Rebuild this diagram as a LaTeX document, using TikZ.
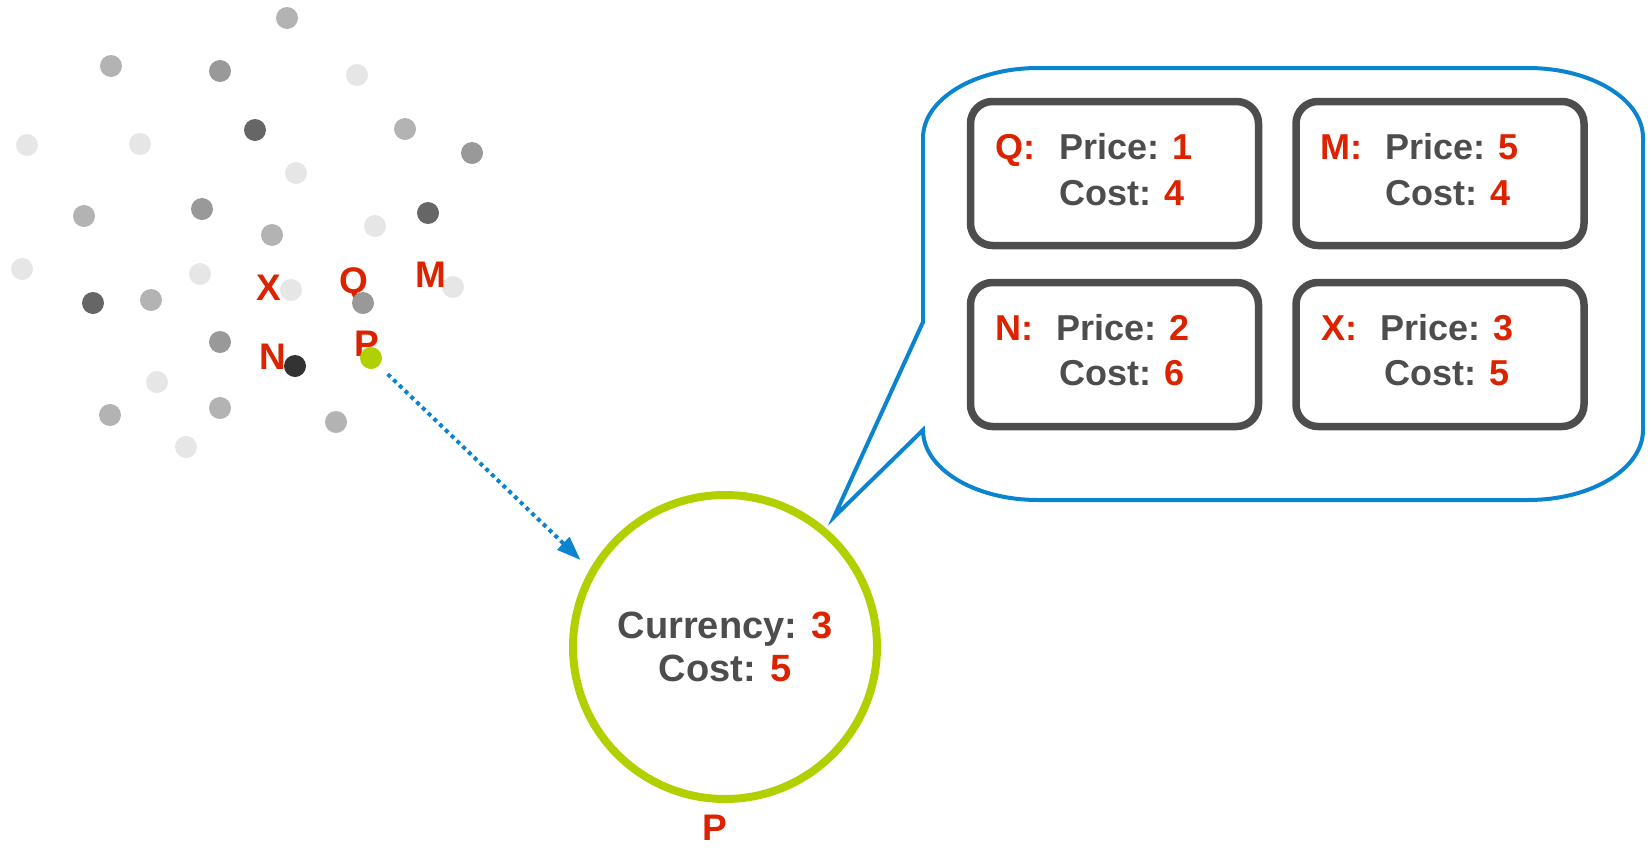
\documentclass[tikz,border=0pt]{standalone}
\usepackage{fontspec}
\setmainfont{Liberation Sans}
\usetikzlibrary{arrows.meta}
\definecolor{cred}{HTML}{DD2200}
\definecolor{ctext}{HTML}{4D4D4D}
\definecolor{cgreen}{HTML}{B2D000}
\definecolor{cblue}{HTML}{0A84D0}
\definecolor{ga}{HTML}{E6E6E6}
\definecolor{gb}{HTML}{B3B3B3}
\definecolor{gc}{HTML}{999999}
\definecolor{gd}{HTML}{666666}
\definecolor{ge}{HTML}{333333}
\begin{document}
\begin{tikzpicture}[x=1pt,y=1pt,
  dot/.style={circle,inner sep=0pt,minimum size=22pt,fill=#1},
  lbl/.style={anchor=base west,inner sep=0pt,text=cred,font=\fontsize{37}{40}\selectfont\bfseries},
  key/.style={anchor=base west,inner sep=0pt,text=cred,font=\fontsize{36}{40}\selectfont\bfseries},
  txt/.style={anchor=base west,inner sep=0pt,text=ctext,font=\fontsize{36}{40}\selectfont\bfseries},
  infobox/.style={draw=ctext,line width=7.5pt,rounded corners=22pt,minimum width=288pt,minimum height=144pt,inner sep=0pt}
]
\useasboundingbox (0,0) rectangle (1651,-849);

% scattered dots
\foreach \n/\x/\y/\c in {1/287/18/gb, 2/111/66/gb, 3/220/71/gc, 4/357/75/ga, 5/255/130/gd,
  6/27/145/ga, 7/140/144/ga, 8/405/129/gb, 9/472/153/gc, 10/296/173/ga, 11/84/216/gb,
  12/202/209/gc, 13/272/235/gb, 14/375/226/ga, 15/428/213/gd, 16/22/269/ga, 17/200/274/ga,
  18/291/290/ga, 19/453/287/ga, 20/93/303/gd, 21/151/300/gb, 23/220/342/gc,
  26/157/382/ga, 27/110/415/gb, 28/220/408/gb, 29/336/422/gb, 30/186/447/ga}
  \node[dot=\c] (d\n) at (\x,-\y) {};

% letters
\node[lbl] (lx) at (256,-300) {X};
\node[lbl] (lq) at (339,-293) {Q};
\node[lbl] (lm) at (415,-287) {M};
\node[lbl] (ln) at (259,-369) {N};
\node[lbl] (lp) at (354,-356) {P};

\node[dot=gc] (d22) at (363,-303) {};
\node[dot=ge] (d24) at (295,-366) {};
\node[dot=cgreen] (pdot) at (371,-358) {};

% big circle
\node[circle,draw=cgreen,line width=8pt,minimum size=304pt,inner sep=0pt,text=ctext,align=center,
  font=\fontsize{38}{43}\selectfont\bfseries] (pc) at (725,-647)
  {Currency: \textcolor{cred}{3}\\Cost: \textcolor{cred}{5}};
\node[lbl,anchor=base] (pl) at (715,-840) {P};

% dotted arrow
\draw[cblue,line width=4pt,dash pattern=on 4pt off 4pt,shorten <=12pt,shorten >=13pt,
  -{Triangle[length=24pt,width=17pt]}] (pdot) -- (pc.150);

% callout
\coordinate (tailtip) at (834,-517);
\draw[cblue,line width=4pt,line join=miter]
  (923,-322) -- (923,-138)
  arc[start angle=180,end angle=90,x radius=115,y radius=70] -- (1528,-68)
  arc[start angle=90,end angle=0,x radius=115,y radius=70] -- (1643,-430)
  arc[start angle=0,end angle=-90,x radius=115,y radius=70] -- (1038,-500)
  arc[start angle=270,end angle=180,x radius=115,y radius=70] -- (tailtip) -- cycle;

% info boxes
\node[infobox] (qbox) at (1114.5,-173.5) {};
\node[infobox] (mbox) at (1440,-173.5) {};
\node[infobox] (nbox) at (1114.5,-354.5) {};
\node[infobox] (xbox) at (1440,-354.5) {};

\node[key] (qk) at (995,-159) {Q:};
\node[txt] (qp) at (1059,-159) {Price: \textcolor{cred}{1}};
\node[txt] (qc) at (1059,-205) {Cost: \textcolor{cred}{4}};

\node[key] (mk) at (1320,-159) {M:};
\node[txt] (mp) at (1385,-159) {Price: \textcolor{cred}{5}};
\node[txt] (mc) at (1385,-205) {Cost: \textcolor{cred}{4}};

\node[key] (nk) at (995,-340) {N:};
\node[txt] (np) at (1056,-340) {Price: \textcolor{cred}{2}};
\node[txt] (nc) at (1059,-385) {Cost: \textcolor{cred}{6}};

\node[key] (xk) at (1321,-340) {X:};
\node[txt] (xp) at (1380,-340) {Price: \textcolor{cred}{3}};
\node[txt] (xc) at (1384,-385) {Cost: \textcolor{cred}{5}};
\end{tikzpicture}
\end{document}
